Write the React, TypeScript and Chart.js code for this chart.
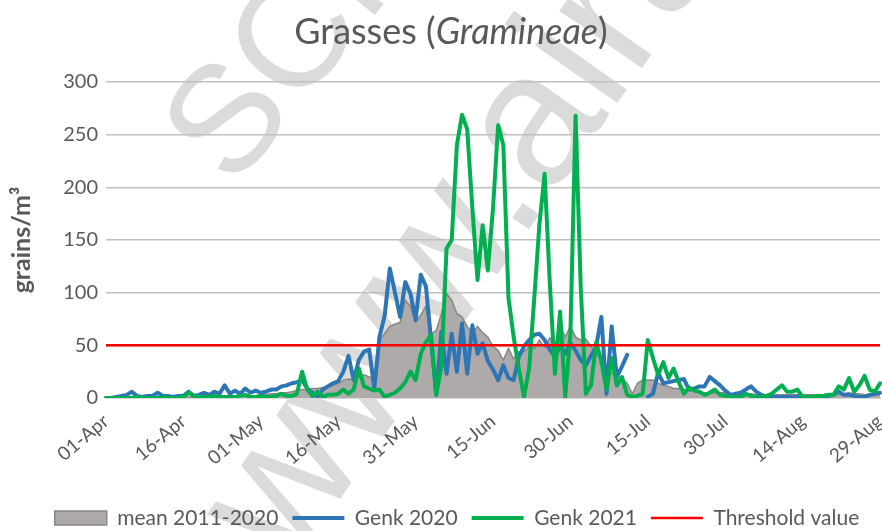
import React, { useEffect, useRef } from 'react';
import { Chart, registerables } from 'chart.js';

Chart.register(...registerables);

// ---- categories (daily, 01-Apr .. 29-Aug) ----
const MONTHS: [string, number][] = [['Apr', 30], ['May', 31], ['Jun', 30], ['Jul', 31], ['Aug', 31]];
function buildDays(count: number): string[] {
  const out: string[] = [];
  for (const [m, n] of MONTHS) {
    for (let d = 1; d <= n && out.length < count; d++) {
      out.push(`${d < 10 ? '0' + d : d}-${m}`);
    }
  }
  return out;
}
const DAYS = buildDays(151);

const TICK_LABELS = ['01-Apr', '16-Apr', '01-May', '16-May', '31-May', '15-Jun', '30-Jun', '15-Jul', '30-Jul', '14-Aug', '29-Aug'];

// ---- series (grains/m³) ----
const MEAN_2011_2020 = [
  0, 0, 1, 1, 1, 1, 1, 1, 1, 1,
  1, 1, 1, 1, 1, 1, 1, 1, 1, 1,
  1, 1, 1, 1, 1, 2, 2, 2, 2, 2,
  3, 3, 4, 4, 5, 5, 6, 7, 8, 8,
  9, 9, 10, 11, 12, 14, 17, 18, 17, 20,
  22, 20, 19, 55, 61, 68, 70, 72, 93, 87,
  72, 79, 87, 61, 64, 80, 99, 93, 80, 77,
  68, 61, 68, 62, 58, 49, 45, 36, 47, 37,
  44, 44, 49, 47, 55, 48, 57, 50, 68, 58,
  68, 58, 55, 56, 49, 42, 36, 27, 24, 22,
  18, 14, 4, 14, 17, 17, 17, 14, 12, 11,
  9, 9, 8, 8, 7, 6, 5, 5, 5, 5,
  5, 4, 4, 4, 4, 4, 3, 3, 3, 3,
  3, 3, 3, 3, 3, 3, 3, 3, 3, 3,
  4, 4, 4, 4, 5, 4, 4, 3, 3, 3,
  3,
];

const GENK_2020: (number | null)[] = [
  0, 0, 1, 2, 3, 6, 2, 1, 2, 2,
  5, 2, 2, 1, 2, 2, 6, 2, 3, 5,
  3, 6, 4, 12, 4, 7, 4, 9, 5, 7,
  5, 6, 8, 8, 11, 12, 14, 15, 17, 9,
  5, 1, 8, 11, 14, 16, 25, 40, 17, 36,
  44, 46, 9, 58, 78, 123, 100, 77, 110, 99,
  74, 117, 106, 55, 3, 63, 23, 61, 25, 71,
  23, 69, 42, 52, 35, 27, 17, 31, 19, 17,
  39, 49, 55, 60, 61, 55, 46, 39, 49, 42,
  52, 45, 36, 31, 40, 49, 77, 4, 68, 20,
  30, 41, null, null, null, 1, 4, 24, 14, 15,
  16, 17, 18, 8, 9, 11, 11, 20, 16, 12,
  7, 3, 4, 5, 8, 11, 6, 3, 1, 1,
  1, 1, 1, 1, 1, 1, 1, 1, 1, 1,
  2, 3, 6, 3, 3, 2, 1, 1, 3, 4,
  5,
];

const GENK_2021 = [
  0, 0, 0, 0, 0, 0, 1, 0, 0, 0,
  0, 1, 0, 0, 0, 1, 5, 2, 1, 1,
  1, 2, 1, 1, 1, 1, 2, 3, 1, 1,
  2, 1, 1, 2, 4, 2, 2, 4, 25, 8,
  2, 6, 1, 3, 3, 4, 8, 4, 8, 28,
  11, 9, 7, 8, 1, 3, 5, 9, 15, 25,
  17, 42, 53, 60, 3, 30, 142, 150, 240, 269,
  255, 180, 112, 164, 121, 180, 259, 240, 95, 58,
  28, 1, 28, 95, 165, 213, 110, 23, 82, 1,
  60, 268, 105, 4, 12, 53, 35, 8, 38, 12,
  20, 3, 1, 2, 4, 55, 38, 22, 34, 19,
  28, 15, 4, 10, 7, 6, 3, 5, 8, 3,
  2, 1, 1, 1, 4, 2, 1, 1, 2, 4,
  8, 12, 6, 6, 8, 1, 1, 1, 2, 2,
  3, 3, 11, 8, 19, 6, 12, 21, 8, 6,
  14,
];

const THRESHOLD_VALUE = 50;

const Y_TICKS = [0, 50, 100, 150, 200, 250, 300];

const FONT = "Lato, 'Open Sans', sans-serif";
const TEXT_COLOR = '#595959';

const WATERMARK_1 = 'SCIENSANO';
const WATERMARK_2 = 'www.airallergy.be';

function drawWatermark(ctx: CanvasRenderingContext2D, text: string, x: number, y: number, size: number, angle: number) {
  ctx.save();
  ctx.fillStyle = 'rgba(0,0,0,0.14)';
  ctx.textBaseline = 'alphabetic';
  ctx.textAlign = 'left';
  ctx.font = `${size}px 'Liberation Sans', Arial, sans-serif`;
  ctx.translate(x, y);
  ctx.rotate((angle * Math.PI) / 180);
  ctx.fillText(text, 0, 0);
  ctx.restore();
}

const watermarkPlugin = {
  id: 'watermark',
  beforeDraw(chart: any) {
    const ctx = chart.ctx as CanvasRenderingContext2D;
    drawWatermark(ctx, WATERMARK_1, 233, 190, 152, -51);
    drawWatermark(ctx, WATERMARK_2, 289, 572, 190, -55);
  },
};

const titlePlugin = {
  id: 'mixedTitle',
  afterDraw(chart: any) {
    const ctx = chart.ctx as CanvasRenderingContext2D;
    const parts = [
      { t: 'Grasses (', f: `normal 36px ${FONT}` },
      { t: 'Gramineae', f: `italic 36px ${FONT}` },
      { t: ')', f: `normal 36px ${FONT}` },
    ];
    ctx.save();
    let total = 0;
    const widths = parts.map((p) => {
      ctx.font = p.f;
      const w = ctx.measureText(p.t).width;
      total += w;
      return w;
    });
    let x = 451 - total / 2;
    ctx.fillStyle = TEXT_COLOR;
    ctx.textBaseline = 'alphabetic';
    ctx.textAlign = 'left';
    parts.forEach((p, i) => {
      ctx.font = p.f;
      ctx.fillText(p.t, x, 44);
      x += widths[i];
    });
    ctx.restore();
  },
};

export default function App() {
  const ref = useRef<HTMLCanvasElement>(null);

  useEffect(() => {
    if (!ref.current) return;
    Chart.defaults.font.family = FONT;
    const chart = new Chart(ref.current, {
      type: 'line',
      data: {
        labels: DAYS,
        datasets: [
          {
            label: 'mean 2011-2020',
            data: MEAN_2011_2020,
            fill: 'origin',
            backgroundColor: '#aeaaaa',
            borderColor: '#8a8686',
            borderWidth: 1.5,
            pointRadius: 0,
            pointStyle: 'rect',
            tension: 0,
            order: 4,
          },
          {
            label: 'Genk 2020',
            data: GENK_2020,
            fill: false,
            backgroundColor: '#2e75b6',
            borderColor: '#2e75b6',
            borderWidth: 4,
            pointRadius: 0,
            pointStyle: 'line',
            borderJoinStyle: 'round',
            borderCapStyle: 'round',
            spanGaps: false,
            tension: 0,
            order: 3,
          },
          {
            label: 'Genk 2021',
            data: GENK_2021,
            fill: false,
            backgroundColor: '#00b050',
            borderColor: '#00b050',
            borderWidth: 4,
            pointRadius: 0,
            pointStyle: 'line',
            borderJoinStyle: 'round',
            borderCapStyle: 'round',
            tension: 0,
            order: 2,
          },
          {
            label: 'Threshold value',
            data: DAYS.map(() => THRESHOLD_VALUE),
            fill: false,
            backgroundColor: '#ff0000',
            borderColor: '#ff0000',
            borderWidth: 2.5,
            pointRadius: 0,
            pointStyle: 'line',
            tension: 0,
            order: 1,
          },
        ],
      },
      options: {
        responsive: true,
        maintainAspectRatio: false,
        animation: false,
        devicePixelRatio: 1,
        layout: { padding: { top: 82, left: 34, right: 2, bottom: 0 } },
        plugins: {
          tooltip: { enabled: false },
          title: { display: false },
          legend: {
            position: 'bottom',
            reverse: true,
            maxHeight: 37.5,
            labels: {
              usePointStyle: true,
              pointStyleWidth: 52,
              boxHeight: 14,
              padding: 14,
              color: TEXT_COLOR,
              font: { size: 21, family: FONT },
            },
          },
        },
        scales: {
          x: {
            type: 'category',
            offset: false,
            grid: { display: false },
            border: { display: true, color: '#d9d9d9', width: 2 },
            ticks: {
              autoSkip: false,
              minRotation: 40,
              maxRotation: 40,
              color: TEXT_COLOR,
              padding: 4,
              font: { size: 19, family: FONT },
              callback: (_v: any, i: number) => (TICK_LABELS.includes(DAYS[i]) ? DAYS[i] : null),
            },
            afterFit: (s: any) => {
              s.height = 95.5;
              s.paddingLeft = 0;
              s.paddingRight = 0;
            },
          },
          y: {
            min: 0,
            max: 300,
            afterBuildTicks: (s: any) => {
              s.ticks = Y_TICKS.map((v) => ({ value: v }));
            },
            grid: { color: '#bfbfbf', lineWidth: 1.5, drawTicks: false },
            border: { display: false },
            ticks: {
              color: TEXT_COLOR,
              padding: 8,
              font: { size: 20, family: FONT },
            },
            title: {
              display: true,
              text: 'grains/m³',
              color: TEXT_COLOR,
              font: { size: 25, weight: 'bold', family: FONT },
              padding: { top: -27, bottom: 0 },
            },
            afterFit: (s: any) => {
              s.width = 72;
              s.paddingTop = 0;
              s.paddingBottom = 0;
            },
          },
        },
      },
      plugins: [watermarkPlugin, titlePlugin],
    } as any);
    return () => chart.destroy();
  }, []);

  return (
    <div style={{ position: 'fixed', left: 0, top: 0, width: 882, height: 531, background: '#ffffff' }}>
      <canvas ref={ref} />
    </div>
  );
}
